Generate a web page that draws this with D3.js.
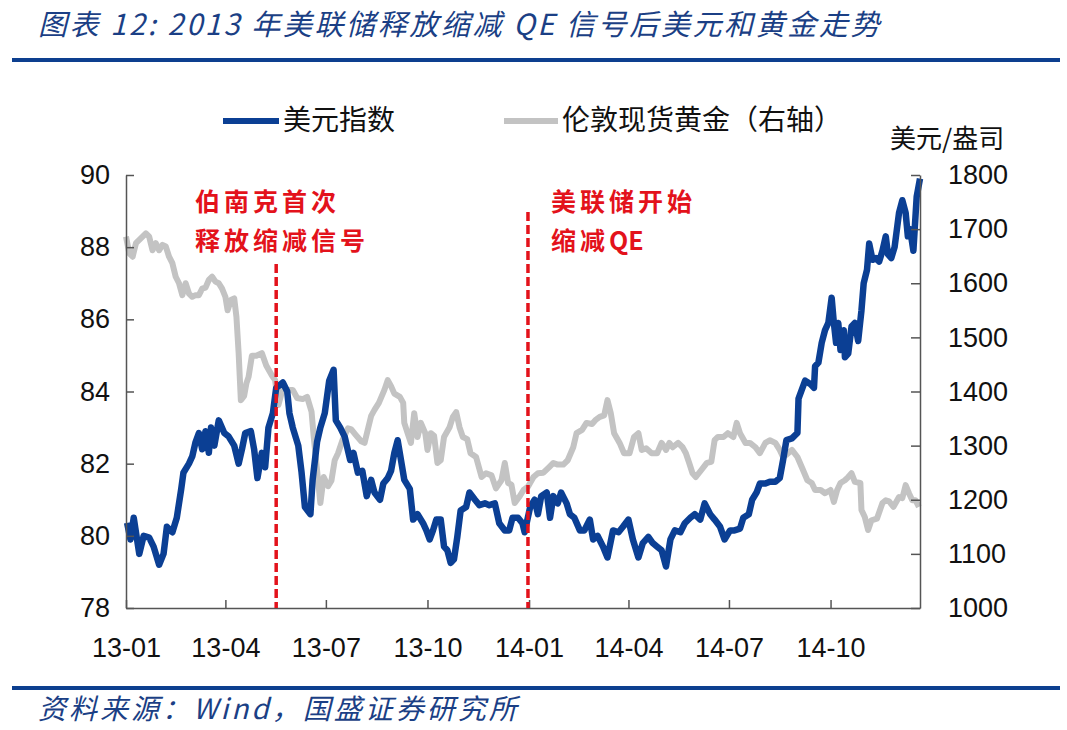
<!DOCTYPE html>
<html>
<head>
<meta charset="utf-8">
<script src="https://cdn.jsdelivr.net/npm/d3@7"></script>
<style>
  html, body { margin: 0; padding: 0; background: #fff; }
  svg { display: block; }
</style>
</head>
<body>
<svg id="chart" width="1067" height="730"></svg>
<script>
// ---------------- DATA ----------------
const dxyDates = ["2013-01-02","2013-01-05","2013-01-08","2013-01-13","2013-01-17","2013-01-22","2013-01-26","2013-01-31","2013-02-04","2013-02-07","2013-02-12","2013-02-16","2013-02-20","2013-02-22","2013-02-27","2013-03-02","2013-03-05","2013-03-08","2013-03-11","2013-03-14","2013-03-17","2013-03-19","2013-03-22","2013-03-26","2013-03-31","2013-04-04","2013-04-09","2013-04-13","2013-04-16","2013-04-19","2013-04-24","2013-04-27","2013-04-30","2013-05-04","2013-05-07","2013-05-10","2013-05-14","2013-05-17","2013-05-23","2013-05-27","2013-05-29","2013-06-01","2013-06-06","2013-06-09","2013-06-12","2013-06-17","2013-06-19","2013-06-23","2013-06-26","2013-06-30","2013-07-04","2013-07-08","2013-07-10","2013-07-14","2013-07-18","2013-07-23","2013-07-26","2013-07-30","2013-08-03","2013-08-07","2013-08-11","2013-08-14","2013-08-19","2013-08-22","2013-08-26","2013-08-29","2013-09-01","2013-09-04","2013-09-07","2013-09-10","2013-09-15","2013-09-18","2013-09-22","2013-09-27","2013-09-30","2013-10-03","2013-10-06","2013-10-09","2013-10-13","2013-10-16","2013-10-19","2013-10-22","2013-10-25","2013-10-28","2013-10-31","2013-11-05","2013-11-08","2013-11-13","2013-11-17","2013-11-22","2013-11-26","2013-12-01","2013-12-05","2013-12-10","2013-12-14","2013-12-17","2013-12-22","2013-12-26","2013-12-28","2014-01-02","2014-01-06","2014-01-09","2014-01-12","2014-01-17","2014-01-20","2014-01-23","2014-01-27","2014-01-30","2014-02-04","2014-02-07","2014-02-11","2014-02-16","2014-02-20","2014-02-25","2014-02-28","2014-03-04","2014-03-09","2014-03-13","2014-03-18","2014-03-23","2014-03-27","2014-04-01","2014-04-05","2014-04-10","2014-04-14","2014-04-19","2014-04-23","2014-04-27","2014-05-01","2014-05-05","2014-05-09","2014-05-13","2014-05-18","2014-05-22","2014-05-27","2014-05-31","2014-06-05","2014-06-09","2014-06-14","2014-06-18","2014-06-23","2014-06-27","2014-07-02","2014-07-06","2014-07-11","2014-07-14","2014-07-19","2014-07-22","2014-07-26","2014-07-29","2014-08-03","2014-08-07","2014-08-12","2014-08-16","2014-08-19","2014-08-22","2014-08-27","2014-09-01","2014-09-02","2014-09-05","2014-09-08","2014-09-13","2014-09-16","2014-09-17","2014-09-20","2014-09-23","2014-09-26","2014-09-29","2014-10-02","2014-10-04","2014-10-06","2014-10-08","2014-10-10","2014-10-13","2014-10-14","2014-10-17","2014-10-20","2014-10-23","2014-10-26","2014-10-29","2014-10-31","2014-11-03","2014-11-05","2014-11-08","2014-11-11","2014-11-14","2014-11-17","2014-11-20","2014-11-22","2014-11-25","2014-11-28","2014-12-02","2014-12-05","2014-12-08","2014-12-10","2014-12-12","2014-12-15","2014-12-18","2014-12-21"];
const dxyValues = [80.36,79.9,80.5,79.5,80.0,79.95,79.7,79.2,79.5,80.25,80.1,80.5,81.3,81.75,82.0,82.2,82.6,82.85,82.4,82.9,82.3,83.0,82.5,83.2,82.85,82.75,82.5,82.0,82.4,82.85,82.9,82.4,81.6,82.3,81.9,83.0,83.4,84.1,84.25,84.0,83.4,83.0,82.5,81.75,80.8,80.6,81.55,82.6,83.0,83.4,84.3,84.6,83.2,83.0,82.75,82.1,82.3,81.75,81.8,81.1,81.55,81.2,81.0,81.45,81.6,81.8,82.3,82.65,82.1,81.55,81.3,80.45,80.6,80.35,80.15,79.9,80.15,80.45,80.45,79.7,79.6,79.25,79.35,79.97,80.7,80.8,81.2,81.0,80.85,80.9,80.85,80.9,80.35,80.15,80.15,80.5,80.5,80.35,80.1,80.8,81.0,80.6,81.1,81.2,80.5,81.1,80.9,81.2,80.9,80.6,80.5,80.15,80.15,80.45,79.9,80.0,79.7,79.4,80.15,80.1,80.25,80.45,79.9,79.4,79.8,79.97,79.8,79.7,79.6,79.15,79.9,80.15,80.1,80.35,80.5,80.6,80.45,80.9,80.6,80.45,80.25,79.9,80.15,80.15,80.2,80.5,80.6,81.0,81.2,81.45,81.45,81.5,81.5,81.6,82.1,82.65,82.7,82.85,83.8,84.05,84.3,84.2,84.1,84.7,84.8,85.35,85.7,85.9,86.6,85.9,85.35,85.9,85.15,85.7,84.95,85.05,85.8,85.9,85.4,86.25,87.0,87.37,88.1,87.65,87.7,87.6,87.9,88.3,87.8,87.7,88.0,88.95,89.3,88.95,88.3,88.5,87.9,89.4,89.9];

const goldDates = ["2013-01-01","2013-01-04","2013-01-07","2013-01-10","2013-01-13","2013-01-16","2013-01-19","2013-01-22","2013-01-25","2013-01-28","2013-01-31","2013-02-03","2013-02-06","2013-02-09","2013-02-12","2013-02-15","2013-02-18","2013-02-21","2013-02-24","2013-02-27","2013-03-02","2013-03-05","2013-03-08","2013-03-11","2013-03-14","2013-03-17","2013-03-20","2013-03-23","2013-03-26","2013-03-29","2013-04-01","2013-04-03","2013-04-06","2013-04-09","2013-04-11","2013-04-13","2013-04-15","2013-04-18","2013-04-20","2013-04-22","2013-04-25","2013-04-29","2013-05-04","2013-05-08","2013-05-13","2013-05-16","2013-05-19","2013-05-23","2013-05-28","2013-06-01","2013-06-05","2013-06-10","2013-06-14","2013-06-18","2013-06-20","2013-06-23","2013-06-26","2013-06-29","2013-07-03","2013-07-06","2013-07-09","2013-07-12","2013-07-16","2013-07-21","2013-07-24","2013-07-28","2013-08-02","2013-08-05","2013-08-08","2013-08-11","2013-08-14","2013-08-18","2013-08-23","2013-08-26","2013-08-29","2013-09-01","2013-09-06","2013-09-09","2013-09-10","2013-09-13","2013-09-16","2013-09-19","2013-09-22","2013-09-25","2013-09-29","2013-10-01","2013-10-04","2013-10-07","2013-10-10","2013-10-13","2013-10-16","2013-10-21","2013-10-24","2013-10-27","2013-10-30","2013-11-02","2013-11-06","2013-11-09","2013-11-14","2013-11-19","2013-11-23","2013-11-28","2013-12-02","2013-12-07","2013-12-10","2013-12-13","2013-12-16","2013-12-19","2013-12-23","2013-12-27","2013-12-31","2014-01-05","2014-01-09","2014-01-14","2014-01-19","2014-01-23","2014-01-27","2014-02-01","2014-02-05","2014-02-10","2014-02-13","2014-02-18","2014-02-22","2014-02-27","2014-03-02","2014-03-06","2014-03-10","2014-03-13","2014-03-16","2014-03-19","2014-03-24","2014-03-28","2014-04-02","2014-04-06","2014-04-10","2014-04-13","2014-04-17","2014-04-22","2014-04-27","2014-05-01","2014-05-05","2014-05-08","2014-05-11","2014-05-16","2014-05-20","2014-05-23","2014-05-26","2014-05-29","2014-06-01","2014-06-06","2014-06-11","2014-06-15","2014-06-18","2014-06-21","2014-06-26","2014-06-30","2014-07-05","2014-07-08","2014-07-11","2014-07-16","2014-07-20","2014-07-25","2014-07-29","2014-08-03","2014-08-07","2014-08-12","2014-08-16","2014-08-19","2014-08-22","2014-08-27","2014-09-01","2014-09-05","2014-09-10","2014-09-14","2014-09-17","2014-09-22","2014-09-26","2014-10-01","2014-10-04","2014-10-07","2014-10-10","2014-10-14","2014-10-17","2014-10-20","2014-10-23","2014-10-28","2014-10-29","2014-11-01","2014-11-04","2014-11-07","2014-11-12","2014-11-17","2014-11-20","2014-11-23","2014-11-27","2014-12-02","2014-12-05","2014-12-08","2014-12-11","2014-12-14","2014-12-17","2014-12-20"];
const goldValues = [1686,1655,1649,1674,1680,1686,1692,1686,1661,1674,1661,1671,1668,1649,1637,1612,1600,1578,1600,1581,1575,1578,1578,1590,1592,1606,1612,1603,1600,1590,1575,1550,1569,1572,1538,1471,1384,1392,1415,1427,1466,1466,1471,1448,1430,1421,1375,1405,1403,1403,1388,1386,1390,1363,1316,1255,1194,1242,1225,1235,1273,1286,1310,1332,1330,1320,1308,1305,1330,1355,1366,1379,1403,1421,1410,1396,1390,1379,1342,1323,1305,1360,1316,1342,1323,1292,1323,1318,1268,1273,1316,1334,1353,1362,1334,1316,1312,1286,1279,1242,1249,1245,1221,1236,1268,1231,1228,1194,1205,1218,1224,1242,1249,1250,1260,1268,1265,1265,1273,1297,1323,1329,1342,1340,1347,1353,1356,1384,1360,1323,1305,1286,1286,1316,1323,1292,1295,1286,1286,1305,1292,1305,1297,1305,1297,1286,1268,1249,1242,1255,1268,1270,1310,1316,1316,1323,1316,1342,1323,1305,1305,1297,1286,1305,1310,1305,1292,1279,1283,1292,1279,1260,1236,1231,1218,1218,1212,1218,1196,1218,1231,1236,1242,1249,1233,1231,1181,1168,1144,1162,1165,1194,1199,1197,1187,1205,1203,1227,1212,1199,1199,1187];

const xTickDates = ["2013-01-01","2013-04-01","2013-07-01","2013-10-01","2014-01-01","2014-04-01","2014-07-01","2014-10-01"];
const xTickLabels = ["13-01","13-04","13-07","13-10","14-01","14-04","14-07","14-10"];
const leftTicks = [78, 80, 82, 84, 86, 88, 90];
const rightTicks = [1000, 1100, 1200, 1300, 1400, 1500, 1600, 1700, 1800];

const events = [
  { date: "2013-05-17", lines: [["伯南克首次"], ["释放缩减信号"]] },
  { date: "2013-12-31", lines: [["美联储开始"], ["缩减", "QE"]] }
];

const seriesNames = ["美元指数", "伦敦现货黄金（右轴）"];
const titleText = "图表 12:  2013 年美联储释放缩减 QE 信号后美元和黄金走势";
const sourceText = "资料来源：Wind，国盛证券研究所";
const rightUnit = "美元/盎司";

// ---------------- DRAW ----------------
const parse = d3.timeParse("%Y-%m-%d");
const svg = d3.select("#chart");

const L = 126, R = 920, T = 175, B = 608;
const BLUE = "#0b3f94", GRAY = "#c3c3c3", RED = "#e3121b", NAVY = "#1b3f85";
const numFont = "'Liberation Sans', Arial, sans-serif";
const cjkFont = "'Noto Sans CJK SC', 'Noto Sans', sans-serif";

const x = d3.scaleTime().domain([parse("2013-01-01"), parse("2014-12-21")]).range([L, R]);
const yL = d3.scaleLinear().domain([78, 90]).range([B, T]);
const yR = d3.scaleLinear().domain([1000, 1800]).range([B, T]);

// Title
svg.append("text").attr("x", 38).attr("y", 35)
  .attr("font-family", cjkFont).attr("font-size", 29).attr("font-style", "italic")
  .attr("letter-spacing", 2.6)
  .attr("fill", NAVY).text(titleText);
svg.append("rect").attr("x", 12).attr("y", 58).attr("width", 1048).attr("height", 4).attr("fill", "#0d3f8f");

// Footer
svg.append("rect").attr("x", 12).attr("y", 686).attr("height", 4).attr("width", 1048).attr("fill", "#0d3f8f");
svg.append("text").attr("x", 38).attr("y", 719)
  .attr("font-family", cjkFont).attr("font-size", 28).attr("font-style", "italic")
  .attr("letter-spacing", 3)
  .attr("fill", NAVY).text(sourceText);

// Legend
const legend = [
  { name: seriesNames[0], color: BLUE, x0: 223, x1: 279 },
  { name: seriesNames[1], color: GRAY, x0: 504, x1: 558 }
];
legend.forEach(l => {
  svg.append("line").attr("x1", l.x0).attr("x2", l.x1).attr("y1", 121).attr("y2", 121)
    .attr("stroke", l.color).attr("stroke-width", 6);
  svg.append("text").attr("x", l.x1 + 4).attr("y", 130)
    .attr("font-family", cjkFont).attr("font-size", 28).attr("fill", "#111").text(l.name);
});
svg.append("text").attr("x", 890).attr("y", 148)
  .attr("font-family", cjkFont).attr("font-size", 26).attr("fill", "#111").text(rightUnit);

// Lines
const goldData = goldDates.map((d, i) => ({ d: parse(d), v: goldValues[i] }));
const dxyData = dxyDates.map((d, i) => ({ d: parse(d), v: dxyValues[i] }));

svg.append("path").datum(goldData)
  .attr("fill", "none").attr("stroke", GRAY).attr("stroke-width", 6).attr("stroke-linejoin", "round")
  .attr("d", d3.line().x(p => x(p.d)).y(p => yR(p.v)));
svg.append("path").datum(dxyData)
  .attr("fill", "none").attr("stroke", BLUE).attr("stroke-width", 6.5).attr("stroke-linejoin", "round")
  .attr("d", d3.line().x(p => x(p.d)).y(p => yL(p.v)));

// Axes
const axisColor = "#555";
const gL = svg.append("g").attr("transform", `translate(${L},0)`)
  .call(d3.axisLeft(yL).tickValues(leftTicks).tickFormat(d3.format("d")).tickSize(-8).tickSizeOuter(0).tickPadding(16));
const gR = svg.append("g").attr("transform", `translate(${R},0)`)
  .call(d3.axisRight(yR).tickValues(rightTicks).tickFormat(d3.format("d")).tickSize(-9).tickSizeOuter(0).tickPadding(28));
const gB = svg.append("g").attr("transform", `translate(0,${B})`)
  .call(d3.axisBottom(x).tickValues(xTickDates.map(parse)).tickFormat((d, i) => xTickLabels[i])
    .tickSize(-8).tickSizeOuter(0).tickPadding(30));
[gL, gR, gB].forEach(g => {
  g.select(".domain").attr("stroke", axisColor).attr("stroke-width", 1.5);
  g.selectAll(".tick line").attr("stroke", axisColor).attr("stroke-width", 1.5);
  g.selectAll(".tick text").attr("font-family", numFont).attr("font-size", 27).attr("fill", "#111");
});

// Event markers
const tops = [264, 212];
events.forEach((e, i) => {
  const ex = x(parse(e.date));
  svg.append("line").attr("x1", ex).attr("x2", ex).attr("y1", tops[i]).attr("y2", B)
    .attr("stroke", RED).attr("stroke-width", 3.5).attr("stroke-dasharray", "9,4");
});
const annX = [195, 551];
events.forEach((e, i) => {
  e.lines.forEach((parts, j) => {
    const t = svg.append("text").attr("x", annX[i]).attr("y", 211 + j * 39)
      .attr("font-family", cjkFont).attr("font-size", 25).attr("font-weight", "bold").attr("fill", RED);
    parts.forEach((p, k) => {
      t.append("tspan").attr("letter-spacing", k === 0 ? 4 : 0).text(p);
    });
  });
});
</script>
</body>
</html>
